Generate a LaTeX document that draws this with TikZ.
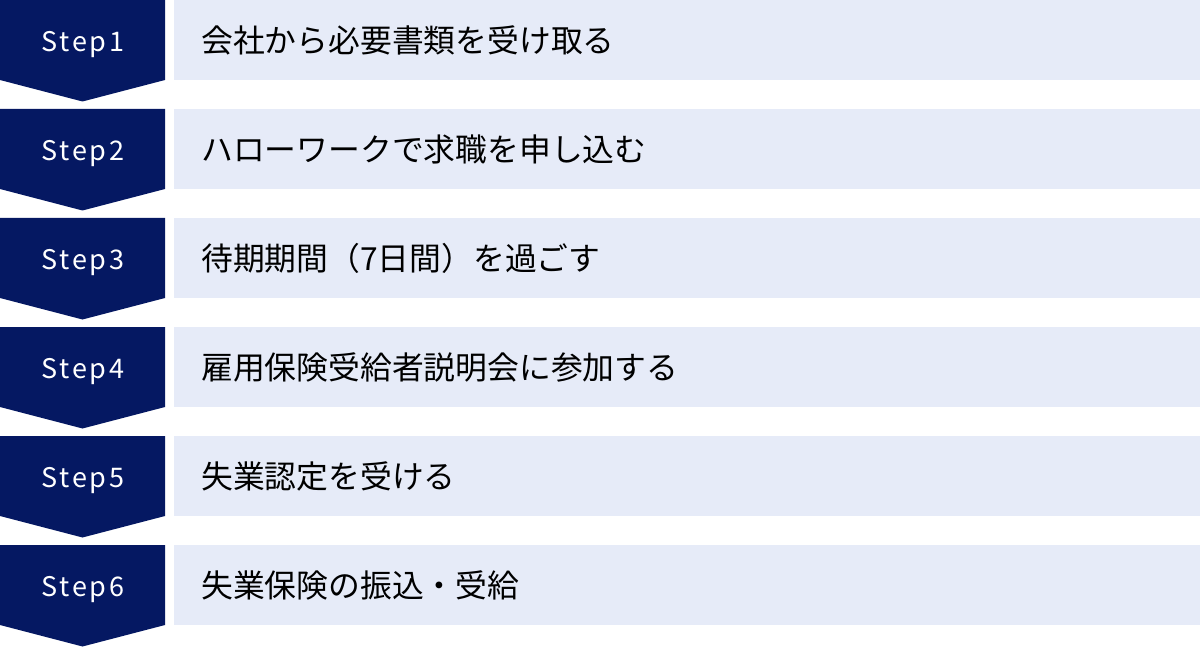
\documentclass[tikz,border=0pt]{standalone}
\usepackage{fontspec}
\setmainfont{Noto Sans CJK JP}
\newfontfamily\stepfont[LetterSpace=10]{Noto Sans CJK JP}
\definecolor{navy}{HTML}{051862}
\definecolor{pale}{HTML}{E6EBF8}
\tikzset{
  steplabel/.style={text=white, font=\stepfont\fontsize{27}{32}\selectfont, inner sep=0pt, anchor=base},
  stepbox/.style={fill=pale, anchor=north west, minimum width=1026pt, minimum height=80pt,
    text width=990pt, inner xsep=27pt, inner ysep=0pt, align=left,
    font=\fontsize{31.8}{36}\selectfont, text=black},
  arrowshape/.style={fill=navy}
}
\begin{document}
\begin{tikzpicture}[x=1pt,y=-1pt]
\useasboundingbox (0,0) rectangle (1200,647);
\foreach \i/\t in {1/会社から必要書類を受け取る,2/ハローワークで求職を申し込む,3/待期期間（7日間）を過ごす,4/雇用保険受給者説明会に参加する,5/失業認定を受ける,6/失業保険の振込・受給} {
  \pgfmathsetmacro\tp{109*(\i-1)}
  \fill[arrowshape] (0,\tp) -- (165,\tp) -- (165,{\tp+80}) -- (82.5,{\tp+101.5}) -- (0,{\tp+80}) -- cycle;
  \node[steplabel] (step\i) at (83,{\tp+51.5}) {Step\i};
  \node[stepbox] (box\i) at (174,\tp) {\t};
}
\end{tikzpicture}
\end{document}
